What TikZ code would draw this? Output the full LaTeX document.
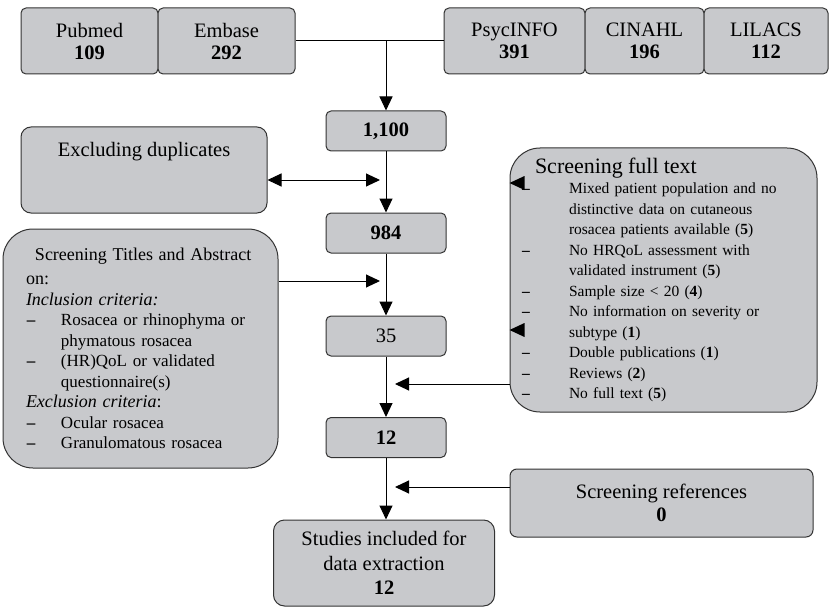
\documentclass[tikz,border=0pt]{standalone}
\usepackage{fontspec}
\setmainfont{Liberation Serif}
\usetikzlibrary{arrows.meta}
\definecolor{boxgray}{RGB}{200,201,204}
\newcommand{\boxcolor}{boxgray}
\newcommand{\ftitem}[1]{\hspace*{12pt}\makebox[47pt][l]{\textbf{--}}#1}
\newcommand{\ftcont}[1]{\hspace*{59pt}#1}
\newcommand{\taitem}[1]{\hspace*{24pt}\makebox[34pt][l]{\textbf{--}}#1}
\newcommand{\tacont}[1]{\hspace*{58pt}#1}

\begin{document}
\begin{tikzpicture}[x=1pt,y=-1pt,
  box/.style={draw=black!80, fill=\boxcolor, line width=1pt, inner sep=0pt,
    align=center, font=\fontsize{20.5}{22}\selectfont},
  srcbox/.style={box, rounded corners=5pt, minimum height=66pt},
  numbox/.style={box, rounded corners=5pt, minimum width=120pt, minimum height=40pt},
  arr/.style={line width=1pt, -{Triangle[length=14pt,width=13pt]}},
  dblarr/.style={line width=1pt, {Triangle[length=14pt,width=13pt]}-{Triangle[length=14pt,width=13pt]}}]
 \useasboundingbox (0,0) rectangle (830,607);

 % databases
 \node[srcbox, minimum width=137pt] (pubmed) at (89.5,41) {Pubmed\\\textbf{109}};
 \node[srcbox, minimum width=137pt] (embase) at (226.5,41) {Embase\\\textbf{292}};
 \node[srcbox, minimum width=141pt] (psyc) at (514.5,41) {PsycINFO\\\textbf{391}};
 \node[srcbox, minimum width=119pt] (cinahl) at (644.5,41) {CINAHL\\\textbf{196}};
 \node[srcbox, minimum width=124pt] (lilacs) at (766,41) {LILACS\\\textbf{112}};

 % main column
 \node[numbox] (n1100) at (386,131) {\textbf{1,100}};
 \node[numbox] (n984) at (386,233) {\textbf{984}};
 \node[numbox] (n35) at (386,336) {35};
 \node[numbox] (n12) at (386,437.5) {\textbf{12}};
 \node[box, rounded corners=11pt, minimum width=221pt, minimum height=86pt,
   font=\fontsize{20.5}{24.5}\selectfont] (studies) at (384,563)
   {Studies included for\\data extraction\\\textbf{12}};

 % side boxes
 \node[box, rounded corners=10pt, minimum width=246pt, minimum height=86pt] (dup) at (144,170)
   {Excluding duplicates\\[19pt]\mbox{}};
 \node[box, rounded corners=30pt, minimum width=275pt, minimum height=239pt, text width=275pt,
   align=left, font=\fontsize{17}{20.5}\selectfont] (titles) at (140.5,348.5)
   {\hspace*{32pt}{\fontsize{18}{20.5}\selectfont Screening Titles and Abstract}\\[4pt]
    \hspace*{23pt}{\fontsize{18}{20.5}\selectfont on:}\\
    \hspace*{23pt}{\fontsize{18}{20.5}\selectfont\textit{Inclusion criteria:}}\\
    \taitem{Rosacea or rhinophyma or}\\
    \tacont{phymatous rosacea}\\
    \taitem{(HR)QoL or validated}\\
    \tacont{questionnaire(s)}\\
    \hspace*{23pt}{\fontsize{18}{20.5}\selectfont\textit{Exclusion criteria}:}\\
    \taitem{Ocular rosacea}\\
    \taitem{Granulomatous rosacea}};
 \node[box, rounded corners=30pt, minimum width=307pt, minimum height=264pt, text width=307pt,
   align=left, font=\fontsize{15.5}{20.5}\selectfont] (ft) at (663.5,280)
   {\hspace*{25pt}{\fontsize{22}{20.5}\selectfont Screening full text}\\
    \ftitem{Mixed patient population and no}\\
    \ftcont{distinctive data on cutaneous}\\
    \ftcont{rosacea patients available (\textbf{5})}\\
    \ftitem{No HRQoL assessment with}\\
    \ftcont{validated instrument (\textbf{5})}\\
    \ftitem{Sample size < 20 (\textbf{4})}\\
    \ftitem{No information on severity or}\\
    \ftcont{subtype (\textbf{1})}\\
    \ftitem{Double publications (\textbf{1})}\\
    \ftitem{Reviews (\textbf{2})}\\
    \ftitem{No full text (\textbf{5})}};
 \node[box, rounded corners=7pt, minimum width=303pt, minimum height=68pt,
   font=\fontsize{20.5}{23}\selectfont] (refs) at (661.5,503)
   {Screening references\\\textbf{0}};

 % connectors
 \coordinate (dupend) at (380,180);
 \coordinate (taend) at (380,281);
 \coordinate (ftend) at (395,384);
 \coordinate (refend) at (395,487);
 \draw[line width=1pt] (embase.east) -- (psyc.west);
 \draw[arr] (n1100.north |- embase.east) -- (n1100.north);
 \draw[arr] (n1100.south) -- (n984.north);
 \draw[arr] (n984.south) -- (n35.north);
 \draw[arr] (n35.south) -- (n12.north);
 \draw[arr] (n12.south) -- (n12.south |- studies.north);
 \draw[dblarr] (dup.east |- dupend) -- (dupend);
 \draw[arr] (titles.east |- taend) -- (taend);
 \draw[arr] (ft.west |- ftend) -- (ftend);
 \draw[arr] (refs.west |- refend) -- (refend);
 \fill (ft.west |- 0,183) -- ++(15,-7) -- ++(0,14) -- cycle;
 \fill (ft.west |- 0,330) -- ++(15,-7) -- ++(0,14) -- cycle;

\end{tikzpicture}
\end{document}
